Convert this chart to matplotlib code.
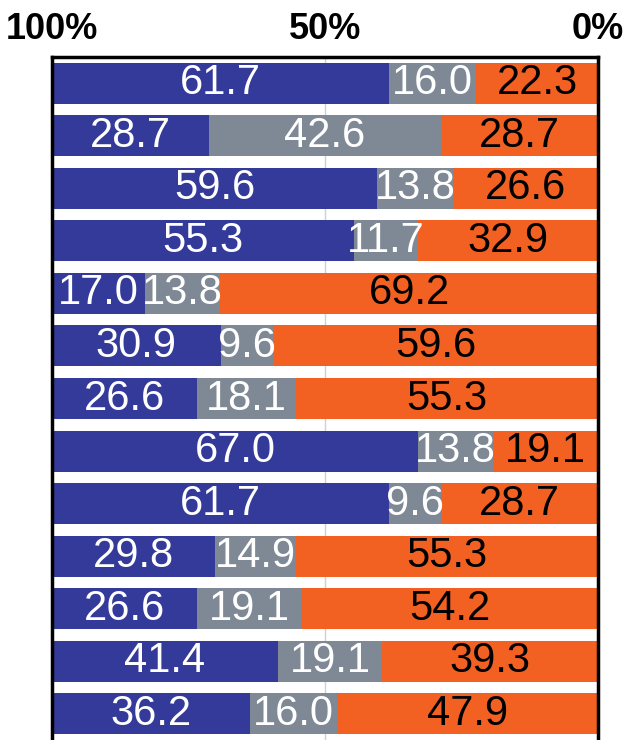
import matplotlib.pyplot as plt
import numpy as np

plt.rcParams['font.family'] = ['Liberation Sans', 'DejaVu Sans']

# 値（上から順）
blue = [61.7, 28.7, 59.6, 55.3, 17.0, 30.9, 26.6, 67.0, 61.7, 29.8, 26.6, 41.4, 36.2]
gray = [16.0, 42.6, 13.8, 11.7, 13.8, 9.6, 18.1, 13.8, 9.6, 14.9, 19.1, 19.1, 16.0]
orange = [22.3, 28.7, 26.6, 32.9, 69.2, 59.6, 55.3, 19.1, 28.7, 55.3, 54.2, 39.3, 47.9]
tick_pos = [0, 50, 100]
tick_labels = ['100%', '50%', '0%']

fig = plt.figure(figsize=(6.25, 7.4), dpi=100)
ax = fig.add_axes([52 / 625, 0, 546 / 625, 683 / 740])

y = np.arange(len(blue))
b1 = ax.barh(y, blue, height=0.78, color='#333A99', zorder=2)
b2 = ax.barh(y, gray, left=blue, height=0.78, color='#7F8995', zorder=2)
left3 = np.array(blue) + np.array(gray)
b3 = ax.barh(y, orange, left=left3, height=0.78, color='#F26122', zorder=2)

ax.bar_label(b1, fmt='%.1f', label_type='center', color='white', fontsize=30)
ax.bar_label(b2, fmt='%.1f', label_type='center', color='white', fontsize=30)
ax.bar_label(b3, fmt='%.1f', label_type='center', color='black', fontsize=30)

ax.set_xlim(0, 100)
ax.set_ylim(len(blue) - 0.5, -0.5)
ax.axvline(50, color='#D0D0D0', linewidth=1, zorder=1)

ax.set_xticks(tick_pos)
ax.set_xticklabels(tick_labels, fontsize=26, fontweight='bold')
ax.tick_params(axis='x', top=True, labeltop=True, bottom=False, labelbottom=False,
               length=0, pad=7)
ax.set_yticks([])

for s in ['top', 'left', 'right']:
    ax.spines[s].set_linewidth(2.5)
ax.spines['bottom'].set_visible(False)

plt.savefig('out.png', dpi=100)
